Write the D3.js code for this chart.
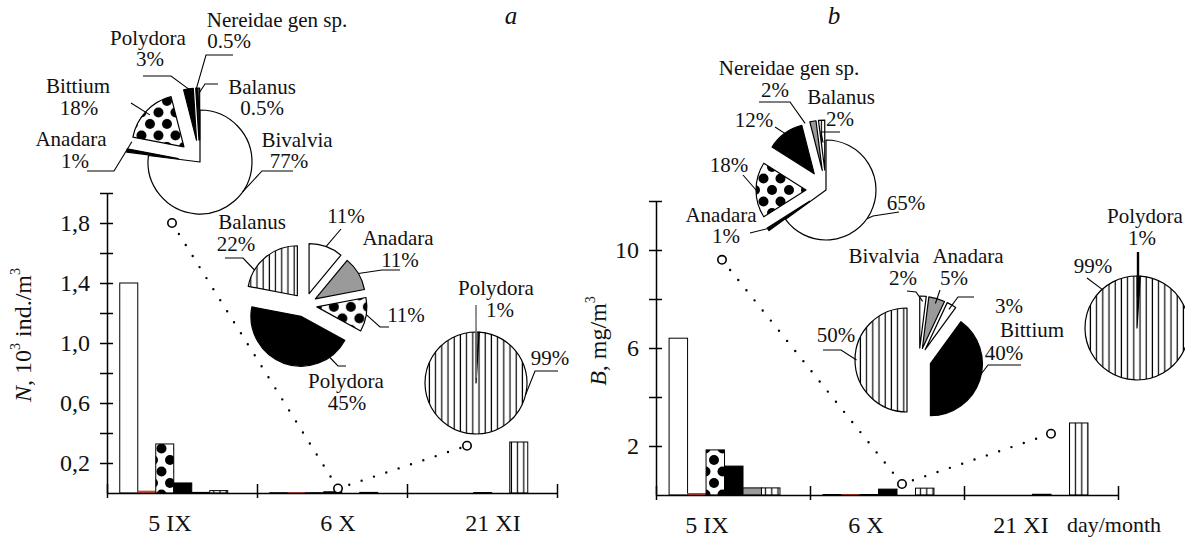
<!DOCTYPE html>
<html><head><meta charset="utf-8">
<script src="https://cdn.jsdelivr.net/npm/d3@7"></script>
</head><body style="margin:0;background:#fff">
<svg id="chart" width="1185" height="539"></svg>
<script>
// ---------- data ----------
const dates = ["5 IX", "6 X", "21 XI"];
const taxa = ["Bivalvia", "Anadara", "Bittium", "Polydora", "Nereidae gen sp.", "Balanus"];

// abundance N, 10^3 ind./m^3, per taxon over the three dates
const abundBivalvia = [1.40, 0.002, 0];
const abundAnadara  = [0.012, 0.002, 0];
const abundBittium  = [0.327, 0.002, 0];
const abundPolydora = [0.067, 0.008, 0.003];
const abundNereidae = [0.004, 0, 0];
const abundBalanus  = [0.016, 0.004, 0.34];
const abundTotal    = [1.80, 0.03, 0.315];
const abundTicks      = [0.2, 0.4, 0.6, 0.8, 1.0, 1.2, 1.4, 1.6, 1.8, 2.0];
const abundTickLabels = [0.2, 0.6, 1.0, 1.4, 1.8];

// biomass B, mg/m^3, per taxon over the three dates
const biomBivalvia = [6.40, 0.02, 0];
const biomAnadara  = [0.06, 0.02, 0];
const biomBittium  = [1.84, 0.02, 0];
const biomPolydora = [1.18, 0.24, 0.03];
const biomNereidae = [0.29, 0, 0];
const biomBalanus  = [0.29, 0.28, 2.94];
const biomTotal    = [9.60, 0.45, 2.50];
const biomTicks      = [2, 4, 6, 8, 10, 12];
const biomTickLabels = [2, 6, 10];

// community structure, % of total
const pieA1Names  = ["Bivalvia", "Anadara", "Bittium", "Polydora", "Nereidae gen sp.", "Balanus"];
const pieA1Values = [77, 1, 18, 3, 0.5, 0.5];
const pieA2Names  = ["Bivalvia", "Anadara", "Bittium", "Polydora", "Balanus"];
const pieA2Values = [11, 11, 11, 45, 22];
const pieA3Names  = ["Polydora", "Balanus"];
const pieA3Values = [1, 99];
const pieB1Names  = ["Bivalvia", "Anadara", "Bittium", "Polydora", "Nereidae gen sp.", "Balanus"];
const pieB1Values = [65, 1, 18, 12, 2, 2];
const pieB2Names  = ["Bivalvia", "Anadara", "Nereidae gen sp.", "Bittium", "Balanus"];
const pieB2Values = [2, 5, 3, 40, 50];
const pieB3Names  = ["Polydora", "Balanus"];
const pieB3Values = [1, 99];

// ---------- drawing ----------
const FONT = "'Liberation Serif'";
const svg = d3.select("#chart");
const defs = svg.append("defs");

const dotW = 17, dotH = 23;
const pd = defs.append("pattern").attr("id", "dots").attr("patternUnits", "userSpaceOnUse")
  .attr("width", dotW).attr("height", dotH);
pd.append("rect").attr("width", dotW).attr("height", dotH).attr("fill", "#fff");
[[0, 0], [dotW, 0], [0, dotH], [dotW, dotH], [dotW / 2, dotH / 2]].forEach(([x, y]) =>
  pd.append("circle").attr("cx", x).attr("cy", y).attr("r", 5).attr("fill", "#000"));

const ps = defs.append("pattern").attr("id", "stripes").attr("patternUnits", "userSpaceOnUse")
  .attr("width", 6.2).attr("height", 10);
ps.append("rect").attr("width", 6.2).attr("height", 10).attr("fill", "#fff");
ps.append("line").attr("x1", 3).attr("x2", 3).attr("y1", 0).attr("y2", 10)
  .attr("stroke", "#000").attr("stroke-width", 1.2);

const fillOf = {
  white: "#fff", black: "#000", gray: "#9a9a9a", dark: "#555", red: "#d9473f",
  dots: "url(#dots)", stripes: "url(#stripes)"
};
const barFills = ["white", "red", "dots", "black", "gray", "stripes"];
const comma = d3.formatLocale({decimal: ",", thousands: " ", grouping: [3], currency: ["", ""]});

const panels = [
  {
    series: [abundBivalvia, abundAnadara, abundBittium, abundPolydora, abundNereidae, abundBalanus],
    total: abundTotal, yMax: 2, ticks: abundTicks, tickLabels: abundTickLabels, fmt: comma.format(".1f"),
    left: 107, right: 557, base: 493, top: 193,
    labelShift: [-12, 6, 11], markerShift: [-10, 6, -15]
  },
  {
    series: [biomBivalvia, biomAnadara, biomBittium, biomPolydora, biomNereidae, biomBalanus],
    total: biomTotal, yMax: 12, ticks: biomTicks, tickLabels: biomTickLabels, fmt: comma.format("d"),
    left: 656, right: 1118, base: 495, top: 201,
    labelShift: [-26, -21, -20], markerShift: [-11, 15, 10]
  }
];

panels.forEach(p => {
  const xg = d3.scaleBand().domain(dates).range([p.left, p.right]);
  const bw = xg.bandwidth();
  const xs = d3.scaleBand().domain(taxa).range([bw * 0.085, bw * 0.805]);
  const y = d3.scaleLinear().domain([0, p.yMax]).range([p.base, p.top]);
  const g = svg.append("g");

  // bars
  taxa.forEach((t, ti) => {
    p.series[ti].forEach((v, di) => {
      if (!v) return;
      g.append("rect")
        .attr("x", xg(dates[di]) + xs(t)).attr("width", xs.bandwidth())
        .attr("y", y(v)).attr("height", p.base - y(v))
        .attr("fill", fillOf[barFills[ti]])
        .attr("stroke", barFills[ti] === "red" ? "#c0392b" : "#000").attr("stroke-width", 1);
    });
  });

  // y axis
  const ay = g.append("g").attr("transform", `translate(${p.left},0)`)
    .call(d3.axisLeft(y).tickValues(p.ticks).tickSizeInner(7).tickSizeOuter(0).tickPadding(10)
      .tickFormat(d => p.tickLabels.includes(d) ? p.fmt(d) : ""));
  ay.attr("font-size", 24).attr("font-family", null);
  ay.selectAll(".tick line").attr("x1", 6).attr("stroke-width", 1.5);
  ay.select(".domain").attr("stroke-width", 1.5);
  ay.selectAll(".tick text").attr("fill", "#111");

  // x axis: boundaries and date labels
  const xb = d3.scaleLinear().domain([0, dates.length]).range([p.left, p.right]);
  const ax = g.append("g").attr("transform", `translate(0,${p.base})`)
    .call(d3.axisBottom(xb).tickValues(d3.range(dates.length + 1)).tickSizeInner(5).tickSizeOuter(0).tickFormat(""));
  ax.selectAll(".tick line").attr("y1", -9).attr("stroke-width", 1.5);
  ax.select(".domain").attr("stroke-width", 1.5);

  const axl = g.append("g").attr("transform", `translate(0,${p.base})`)
    .call(d3.axisBottom(xg).tickSize(0).tickPadding(21));
  axl.select(".domain").remove();
  axl.attr("font-size", 24).attr("font-family", null);
  axl.selectAll(".tick text").attr("fill", "#111").attr("dx", (d, i) => p.labelShift[i]);

  // totals with dotted connection
  const pts = dates.map((d, i) => [xg(d) + bw / 2 + p.markerShift[i], y(p.total[i])]);
  g.append("path").attr("d", d3.line()(pts)).attr("fill", "none").attr("stroke", "#000")
    .attr("stroke-width", 2.4).attr("stroke-linecap", "round").attr("stroke-dasharray", "0,13");
  g.selectAll("circle.tot").data(pts).join("circle").attr("class", "tot")
    .attr("cx", d => d[0]).attr("cy", d => d[1]).attr("r", 4.2)
    .attr("fill", "#fff").attr("stroke", "#000").attr("stroke-width", 1.6);
});

// axis titles and panel letters
const tA = svg.append("text").attr("transform", "translate(31,335) rotate(-90)")
  .attr("text-anchor", "middle").attr("font-size", 24).attr("fill", "#111");
tA.append("tspan").style("font-style", "italic").text("N");
tA.append("tspan").text(", 10");
tA.append("tspan").attr("font-size", 14).attr("dy", -11).text("3");
tA.append("tspan").attr("dy", 11).text(" ind./m");
tA.append("tspan").attr("font-size", 14).attr("dy", -11).text("3");

const tB = svg.append("text").attr("transform", "translate(606,341) rotate(-90)")
  .attr("text-anchor", "middle").attr("font-size", 24).attr("fill", "#111");
tB.append("tspan").style("font-style", "italic").text("B");
tB.append("tspan").text(", mg/m");
tB.append("tspan").attr("font-size", 14).attr("dy", -11).text("3");

svg.append("text").attr("x", 511).attr("y", 24).attr("text-anchor", "middle")
  .attr("font-size", 25).style("font-style", "italic").attr("fill", "#111").text("a");
svg.append("text").attr("x", 834).attr("y", 24).attr("text-anchor", "middle")
  .attr("font-size", 25).style("font-style", "italic").attr("fill", "#111").text("b");
svg.append("text").attr("x", 1114).attr("y", 532).attr("text-anchor", "middle")
  .attr("font-size", 22).attr("fill", "#111").text("day/month");

// ---------- exploded pies ----------
const pies = [
  { names: pieA1Names, values: pieA1Values, cx: 200, cy: 162, r: 52, explode: 22, fixed: [0],
    fills: ["white", "black", "dots", "black", "black", "white"],
    labels: [
      { slice: 0, text: [["Bivalvia", 297, 147], ["77%", 289, 168]], path: [[293, 171], [262, 171]], angle: 125 },
      { slice: 4, text: [["Nereidae gen sp.", 277, 27], ["0.5%", 229, 48]], path: [[233, 55], [206, 55]] },
      { slice: 5, text: [["Balanus", 262, 94], ["0.5%", 262, 115]], path: [[218, 84], [205, 84]], frac: 0.9 },
      { slice: 3, text: [["Polydora", 148, 45], ["3%", 150, 66]], path: [[143, 76], [171, 76]] },
      { slice: 2, text: [["Bittium", 78, 93], ["18%", 79, 115]], path: [[131, 103]], frac: 0.9 },
      { slice: 1, text: [["Anadara", 71, 146], ["1%", 75, 168]], path: [[87, 171], [114, 171]], angle: 290, frac: 0.95 }
    ] },
  { names: pieA2Names, values: pieA2Values, cx: 305, cy: 305, r: 50, explode: 12, fixed: [],
    fills: ["white", "gray", "dots", "black", "stripes"],
    labels: [
      { slice: 4, text: [["Balanus", 252, 229], ["22%", 236, 251]], path: [[225, 258], [243, 258]], angle: 301 },
      { slice: 0, text: [["11%", 346, 223]], path: [[341, 229]] },
      { slice: 1, text: [["Anadara", 398, 245], ["11%", 400, 267]], path: [[400, 270], [382, 270]] },
      { slice: 2, text: [["11%", 406, 322]], path: [[389, 327], [380, 327]] },
      { slice: 3, text: [["Polydora", 346, 388], ["45%", 347, 410]], path: [[346, 366], [338, 366]], angle: 145 }
    ] },
  { names: pieA3Names, values: pieA3Values, cx: 476, cy: 383, r: 51, explode: 0, fixed: [],
    fills: ["dark", "stripes"],
    labels: [
      { slice: 0, text: [["Polydora", 496, 295], ["1%", 500, 317]], path: [[476, 305]], angle: 1.8, frac: 0.1, color: "#777", width: 1.6 },
      { slice: 1, text: [["99%", 550, 365]], path: [[558, 371], [535, 371]], angle: 103 }
    ] },
  { names: pieB1Names, values: pieB1Values, cx: 826, cy: 190, r: 50, explode: 20, fixed: [0],
    fills: ["white", "black", "dots", "black", "gray", "stripes"],
    labels: [
      { slice: 4, text: [["Nereidae gen sp.", 789, 75], ["2%", 775, 97]], path: [[759, 102], [790, 102]], angle: 340 },
      { slice: 5, text: [["Balanus", 841, 104], ["2%", 840, 126]], path: [[840, 132], [821, 132]], frac: 0.55 },
      { slice: 3, text: [["12%", 754, 127]], path: [[775, 127]] },
      { slice: 2, text: [["18%", 729, 172]], path: [[743, 175]] },
      { slice: 1, text: [["Anadara", 721, 222], ["1%", 726, 243]], path: [[750, 233]], frac: 0.95 },
      { slice: 0, text: [["65%", 906, 210]], path: [[899, 212], [873, 216]], angle: 125 }
    ] },
  { names: pieB2Names, values: pieB2Values, cx: 919, cy: 360, r: 52, explode: 12, fixed: [],
    fills: ["white", "gray", "white", "black", "stripes"],
    labels: [
      { slice: 0, text: [["Bivalvia", 884, 263], ["2%", 903, 285]], path: [[907, 291], [916, 292]], frac: 0.9 },
      { slice: 1, text: [["Anadara", 968, 263], ["5%", 954, 285]], path: [[940, 290]], frac: 0.9 },
      { slice: 2, text: [["3%", 1009, 313]], path: [[974, 297], [958, 297]], frac: 0.9 },
      { slice: 3, text: [["Bittium", 1032, 337], ["40%", 1004, 360]], path: [[1021, 365], [988, 365]], frac: 0.95 },
      { slice: 4, text: [["50%", 836, 342]], path: [[823, 350], [841, 350]], frac: 0.97 }
    ] },
  { names: pieB3Names, values: pieB3Values, cx: 1137, cy: 328, r: 52, explode: 0, fixed: [],
    fills: ["black", "stripes"],
    labels: [
      { slice: 0, text: [["Polydora", 1145, 223], ["1%", 1142, 245]], path: [[1138, 252]], angle: 1.8, frac: 0.6, width: 2.4 },
      { slice: 1, text: [["99%", 1093, 273]], path: [[1087, 278]], angle: 318 }
    ] }
];

pies.forEach(p => {
  const data = p.values.map((v, i) => ({ name: p.names[i], v, fill: p.fills[i] }));
  const arcs = d3.pie().sort(null).value(d => d.v).startAngle(0).endAngle(2 * Math.PI)(data);
  const arc = d3.arc().innerRadius(0).outerRadius(p.r);
  const g = svg.append("g");
  arcs.forEach((a, i) => {
    const m = (a.startAngle + a.endAngle) / 2;
    const e = p.fixed.includes(i) ? 0 : p.explode;
    a.ox = p.cx + e * Math.sin(m);
    a.oy = p.cy - e * Math.cos(m);
    g.append("path").attr("d", arc(a)).attr("transform", `translate(${a.ox},${a.oy})`)
      .attr("fill", fillOf[a.data.fill]).attr("stroke", "#000").attr("stroke-width", 1.2)
      .attr("stroke-linejoin", "round");
  });
  p.labels.forEach(l => {
    const a = arcs[l.slice];
    const ang = l.angle != null ? l.angle * Math.PI / 180 : (a.startAngle + a.endAngle) / 2;
    const f = l.frac != null ? l.frac : 1;
    const end = [a.ox + p.r * f * Math.sin(ang), a.oy - p.r * f * Math.cos(ang)];
    g.append("path").attr("d", d3.line()(l.path.concat([end]))).attr("fill", "none")
      .attr("stroke", l.color || "#000").attr("stroke-width", l.width || 1.1);
    l.text.forEach(([t, x, yy]) => g.append("text").attr("x", x).attr("y", yy)
      .attr("text-anchor", "middle").attr("font-size", 21).attr("fill", "#111").text(t));
  });
});

// serif face for every label
svg.selectAll("text").style("font-family", FONT);
</script>
</body></html>
